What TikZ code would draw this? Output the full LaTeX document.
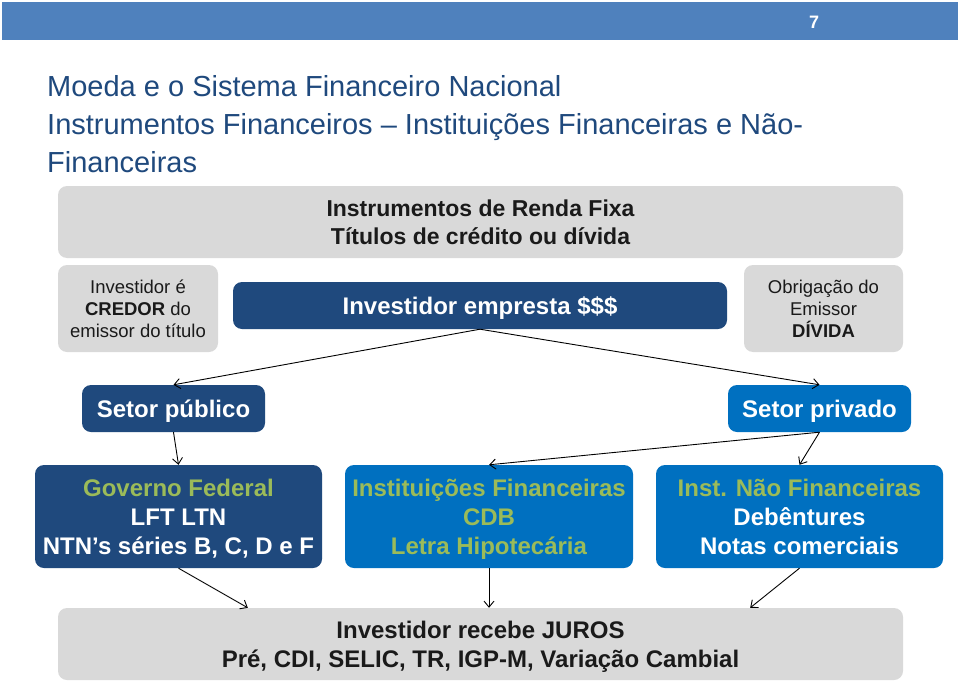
\documentclass[tikz,border=0pt]{standalone}
\usepackage{fontspec}
\setmainfont{Liberation Sans}
\usetikzlibrary{arrows.meta}
\definecolor{banner}{HTML}{4F81BD}
\definecolor{dkblue}{HTML}{1F497D}
\definecolor{mdblue}{HTML}{0070C0}
\definecolor{grn}{HTML}{9BBB59}
\definecolor{gry}{HTML}{D9D9D9}
\definecolor{titlec}{HTML}{1F497D}
\definecolor{txt}{HTML}{1A1A1A}
\tikzset{
  box/.style={rectangle, rounded corners=9pt, inner sep=0pt, align=center},
  graybox/.style={box, fill=gry, text=txt},
  darkbox/.style={box, fill=dkblue, text=white},
  medbox/.style={box, fill=mdblue, text=white},
  big/.style={font=\fontsize{24}{29}\selectfont\bfseries, text depth=0pt},
  lower/.style={text depth=-3pt},
  small/.style={font=\fontsize{18.5}{22}\selectfont},
  conn/.style={-{Straight Barb[length=6pt,width=10pt]}, line width=0.9pt, black},
  titletext/.style={anchor=base west, text=titlec, font=\fontsize{29}{35}\selectfont, inner sep=0pt}
}
\begin{document}
\begin{tikzpicture}[x=1pt,y=-1pt]
\useasboundingbox (0,0) rectangle (960,682);
\fill[white] (0,0) rectangle (960,682);
% banner
\fill[banner] (2,2) rectangle (958,40);
\node[text=white, font=\fontsize{18}{20}\selectfont\bfseries] (pg) at (814,22) {7};
% title
\node[titletext] (t1) at (47,97) {Moeda e o Sistema Financeiro Nacional};
\node[titletext] (t2) at (47,135) {Instrumentos Financeiros -- Instituições Financeiras e Não-};
\node[titletext] (t3) at (47,172) {Financeiras};
% boxes
\node[graybox, minimum width=845pt, minimum height=72pt, font=\fontsize{23}{28}\selectfont\bfseries, text depth=0pt] (top) at (480.5,222) {Instrumentos de Renda Fixa\\Títulos de crédito ou dívida};
\node[graybox, small, minimum width=160pt, minimum height=87pt] (cred) at (138,308.5) {Investidor é\\\textbf{CREDOR} do\\emissor do título};
\node[darkbox, big, minimum width=494pt, minimum height=47pt] (emp) at (480,305.5) {Investidor empresta \$\$\$};
\node[graybox, small, minimum width=159pt, minimum height=87pt] (div) at (823.5,308.5) {Obrigação do\\Emissor\\\textbf{DÍVIDA}};
\node[darkbox, big, minimum width=183pt, minimum height=47pt] (pub) at (173.5,408.5) {Setor público};
\node[medbox, big, minimum width=183pt, minimum height=47pt] (priv) at (819.5,408.5) {Setor privado};
\node[darkbox, big, lower, minimum width=287pt, minimum height=103pt] (gov) at (178.5,516.5) {\textcolor{grn}{Governo Federal}\\LFT LTN\\NTN’s séries B, C, D e F};
\node[medbox, big, lower, minimum width=288pt, minimum height=103pt, text=grn] (fin) at (489,516.5) {Instituições Financeiras\\CDB\\Letra Hipotecária};
\node[medbox, big, lower, minimum width=287pt, minimum height=103pt] (nfin) at (799.5,516.5) {\textcolor{grn}{Inst. Não Financeiras}\\Debêntures\\Notas comerciais};
\node[graybox, big, lower, minimum width=845pt, minimum height=72pt] (bot) at (480.5,644) {Investidor recebe JUROS\\Pré, CDI, SELIC, TR, IGP-M, Variação Cambial};
% connectors
\draw[conn] (emp.south) -- (pub.north);
\draw[conn] (emp.south) -- (priv.north);
\draw[conn] (pub.south) -- (gov.north);
\draw[conn] (priv.south) -- (fin.north);
\draw[conn] (priv.south) -- (nfin.north);
\draw[conn] (gov.south) -- ([xshift=190pt]bot.north west);
\draw[conn] (fin.south) -- (fin.south |- bot.north);
\draw[conn] (nfin.south) -- ([xshift=-153pt]bot.north east);
\end{tikzpicture}
\end{document}
